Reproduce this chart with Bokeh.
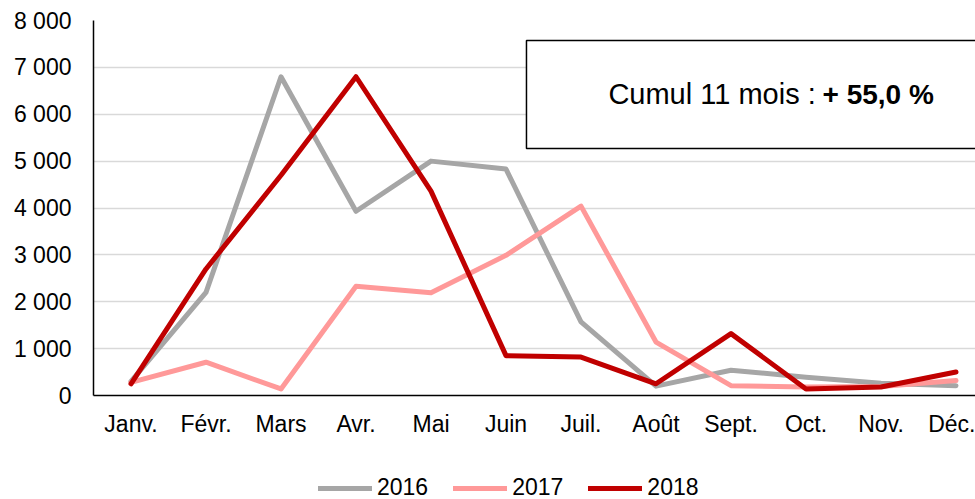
from bokeh.plotting import figure
from bokeh.layouts import column
from bokeh.models import Range1d, FixedTicker, Legend, LegendItem
from bokeh.core.properties import value
from bokeh.embed import file_html
from bokeh.resources import INLINE

months = ["Janv.", "Févr.", "Mars", "Avr.", "Mai", "Juin", "Juil.", "Août", "Sept.", "Oct.", "Nov.", "Déc."]
s2016 = [300, 2200, 6800, 3930, 5000, 4830, 1570, 200, 540, 390, 260, 210]
s2017 = [280, 710, 140, 2330, 2190, 2990, 4040, 1140, 210, 180, 190, 320]
s2018 = [250, 2700, 4700, 6800, 4360, 850, 820, 250, 1320, 140, 180, 500]
series_names = ["2016", "2017", "2018"]
series_colors = ["#a6a6a6", "#ff9999", "#c00000"]
y_ticks = [0, 1000, 2000, 3000, 4000, 5000, 6000, 7000, 8000]
y_labels = ["0", "1 000", "2 000", "3 000", "4 000", "5 000", "6 000", "7 000", "8 000"]
note_normal = "Cumul 11 mois :"
note_bold = "+ 55,0 %"

FONT = "Liberation Sans"
xs = list(range(len(months)))
all_series = [s2016, s2017, s2018]

p = figure(width=975, height=460, output_backend="svg", toolbar_location=None,
           x_range=Range1d(-0.5, 11.26), y_range=Range1d(0, 8000),
           min_border_left=93, min_border_right=0, min_border_top=20, min_border_bottom=65)
p.outline_line_color = None
p.background_fill_color = "white"

# axes
p.xaxis.ticker = FixedTicker(ticks=xs)
p.xaxis.major_label_overrides = {i: m for i, m in enumerate(months)}
p.yaxis.ticker = FixedTicker(ticks=y_ticks)
p.yaxis.major_label_overrides = {t: l for t, l in zip(y_ticks, y_labels)}
for ax in (p.xaxis[0], p.yaxis[0]):
    ax.major_tick_line_color = None
    ax.minor_tick_line_color = None
    ax.axis_line_color = "black"
    ax.axis_line_width = 1.5
    ax.major_label_text_font = FONT
    ax.major_label_text_font_size = "23px"
    ax.major_label_text_color = "black"
p.xaxis.major_label_standoff = 9
p.yaxis.major_label_standoff = 16

p.xgrid.grid_line_color = None
p.ygrid.grid_line_color = "#d9d9d9"
p.ygrid.grid_line_width = 1.5

# note box
p.quad(left=[5.273], right=[30], bottom=[5269], top=[7573],
       fill_color="white", line_color="black", line_width=1.5)
p.text(x=[9.13], y=[6428], text=[note_normal], text_font=value(FONT), text_font_size="29px",
       text_align="right", text_baseline="middle", text_color="black")
p.text(x=[9.22], y=[6428], text=[note_bold], text_font=value(FONT), text_font_size="28px",
       text_font_style="bold", text_align="left", text_baseline="middle", text_color="black")

for ys, col in zip(all_series, series_colors):
    p.line(xs, ys, line_color=col, line_width=5, line_join="round", line_cap="round")

# legend strip (its series lines lie outside this strip's range, only the legend shows)
p2 = figure(width=975, height=39, output_backend="svg", toolbar_location=None,
            x_range=Range1d(-0.5, 11.26), y_range=Range1d(-2, -1),
            min_border_left=0, min_border_right=0, min_border_top=0, min_border_bottom=0)
p2.axis.visible = False
p2.grid.visible = False
p2.outline_line_color = None
leg_renderers = [p2.line(xs, ys, line_color=col, line_width=5, line_cap="round")
                 for ys, col in zip(all_series, series_colors)]
legend = Legend(items=[LegendItem(label=n, renderers=[r]) for n, r in zip(series_names, leg_renderers)],
                orientation="horizontal", location=(225, -2),
                glyph_width=54, glyph_height=20, label_height=20, label_standoff=5, spacing=25,
                padding=0, margin=0, border_line_color=None, background_fill_alpha=0,
                label_text_font=FONT, label_text_font_size="23px", label_text_color="black")
p2.add_layout(legend, "center")

layout = column(p, p2, spacing=0)
open("out.html", "w").write(file_html(layout, INLINE))
